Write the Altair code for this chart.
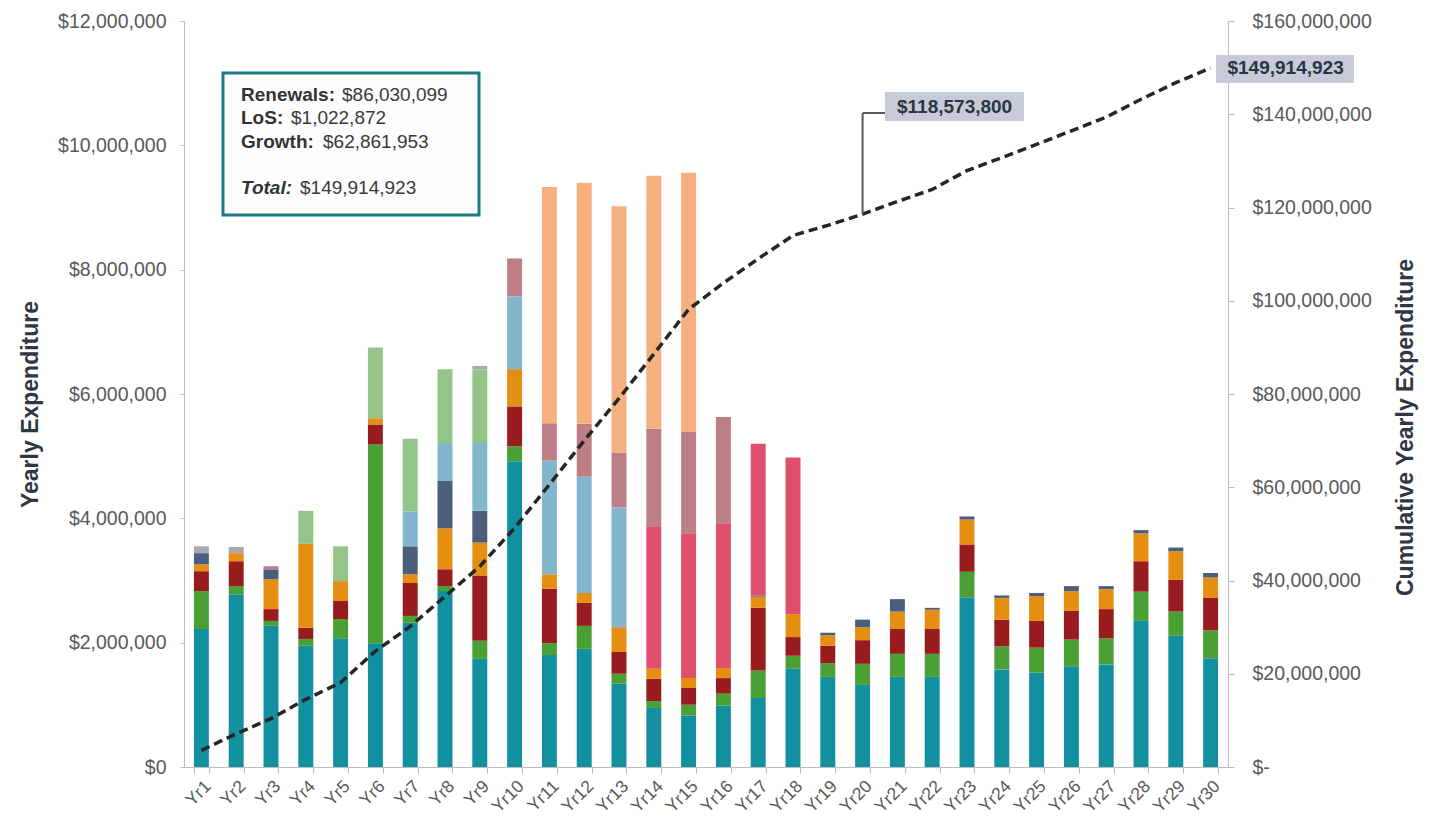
import altair as alt
import pandas as pd

# ---------------------------------------------------------------------------
# Data (yearly expenditure in $ millions per asset group, bottom to top)
# ---------------------------------------------------------------------------
years = [f"Yr{i}" for i in range(1, 31)]

group_names = [
    "Group 1", "Group 2", "Group 3", "Group 4", "Group 5", "Group 6",
    "Group 7", "Group 8", "Group 9", "Group 10", "Group 11",
]
group_colors = [
    "#12909f", "#4a9f35", "#981b1e", "#e58f12", "#4b5e7d", "#82b6cc",
    "#93c58a", "#e04f6b", "#bd7f86", "#f6b07f", "#a9a9b0",
]

g1 = [2.22, 2.78, 2.27, 1.95, 2.07, 1.99, 2.32, 2.83, 1.74, 4.92,
      1.80, 1.90, 1.34, 0.95, 0.83, 0.99, 1.11, 1.58, 1.45, 1.32,
      1.45, 1.45, 2.73, 1.57, 1.52, 1.62, 1.65, 2.35, 2.11, 1.75]
g2 = [0.61, 0.13, 0.08, 0.11, 0.31, 3.20, 0.11, 0.08, 0.29, 0.24,
      0.19, 0.37, 0.16, 0.11, 0.17, 0.19, 0.44, 0.21, 0.22, 0.34,
      0.37, 0.37, 0.41, 0.37, 0.40, 0.43, 0.42, 0.47, 0.39, 0.45]
g3 = [0.32, 0.40, 0.19, 0.18, 0.29, 0.32, 0.53, 0.27, 1.05, 0.64,
      0.88, 0.37, 0.35, 0.36, 0.27, 0.25, 1.01, 0.30, 0.28, 0.38,
      0.40, 0.40, 0.44, 0.43, 0.43, 0.46, 0.47, 0.49, 0.51, 0.52]
g4 = [0.11, 0.13, 0.48, 1.35, 0.32, 0.10, 0.14, 0.66, 0.53, 0.60,
      0.23, 0.16, 0.40, 0.16, 0.16, 0.16, 0.18, 0.37, 0.17, 0.21,
      0.28, 0.31, 0.40, 0.35, 0.40, 0.32, 0.32, 0.45, 0.46, 0.33]
g5 = [0.18, 0.00, 0.16, 0.00, 0.00, 0.00, 0.45, 0.76, 0.51, 0.00,
      0.00, 0.00, 0.00, 0.00, 0.00, 0.00, 0.02, 0.00, 0.04, 0.12,
      0.20, 0.03, 0.05, 0.04, 0.05, 0.08, 0.05, 0.05, 0.06, 0.07]
g6 = [0.00, 0.00, 0.00, 0.00, 0.00, 0.00, 0.56, 0.61, 1.09, 1.17,
      1.83, 1.87, 1.93, 0.00, 0.00, 0.00, 0.00, 0.00, 0.00, 0.00,
      0.00, 0.00, 0.00, 0.00, 0.00, 0.00, 0.00, 0.00, 0.00, 0.00]
g7 = [0.00, 0.00, 0.00, 0.53, 0.56, 1.14, 1.17, 1.19, 1.19, 0.00,
      0.00, 0.00, 0.00, 0.00, 0.00, 0.00, 0.00, 0.00, 0.00, 0.00,
      0.00, 0.00, 0.00, 0.00, 0.00, 0.00, 0.00, 0.00, 0.00, 0.00]
g8 = [0.00, 0.00, 0.00, 0.00, 0.00, 0.00, 0.00, 0.00, 0.00, 0.00,
      0.00, 0.00, 0.00, 2.28, 2.33, 2.33, 2.44, 2.52, 0.00, 0.00,
      0.00, 0.00, 0.00, 0.00, 0.00, 0.00, 0.00, 0.00, 0.00, 0.00]
g9 = [0.00, 0.00, 0.05, 0.00, 0.00, 0.00, 0.00, 0.00, 0.00, 0.61,
      0.60, 0.85, 0.88, 1.58, 1.63, 1.71, 0.00, 0.00, 0.00, 0.00,
      0.00, 0.00, 0.00, 0.00, 0.00, 0.00, 0.00, 0.00, 0.00, 0.00]
g10 = [0.00, 0.00, 0.00, 0.00, 0.00, 0.00, 0.00, 0.00, 0.00, 0.00,
       3.80, 3.88, 3.96, 4.07, 4.17, 0.00, 0.00, 0.00, 0.00, 0.00,
       0.00, 0.00, 0.00, 0.00, 0.00, 0.00, 0.00, 0.00, 0.00, 0.00]
g11 = [0.11, 0.10, 0.00, 0.00, 0.00, 0.00, 0.00, 0.00, 0.05, 0.00,
       0.00, 0.00, 0.00, 0.00, 0.00, 0.00, 0.00, 0.00, 0.00, 0.00,
       0.00, 0.00, 0.00, 0.00, 0.00, 0.00, 0.00, 0.00, 0.00, 0.00]
group_values = [g1, g2, g3, g4, g5, g6, g7, g8, g9, g10, g11]

# Cumulative yearly expenditure, $ millions
cumulative_m = [3.57, 7.13, 10.38, 14.52, 18.09, 24.85, 30.15, 36.57, 43.04, 51.24,
                60.59, 70.01, 79.05, 88.58, 98.16, 103.80, 109.00, 114.00, 116.18, 118.5738,
                121.29, 123.87, 127.92, 130.70, 133.52, 136.45, 139.38, 143.21, 146.77, 149.914923]

# Summary box
summary_labels = ["Renewals:", "LoS:", "Growth:", "Total:"]
summary_values = [86030099, 1022872, 62861953, 149914923]

# ---------------------------------------------------------------------------
# Tables
# ---------------------------------------------------------------------------
rows = []
for layer, (name, vals) in enumerate(zip(group_names, group_values)):
    for yr, v in zip(years, vals):
        if v > 0:
            rows.append({"year": yr, "group": name, "layer": layer, "amount": v * 1_000_000})
bars_df = pd.DataFrame(rows)
cum_df = pd.DataFrame({"year": years, "cumulative": [v * 1_000_000 for v in cumulative_m]})
one = pd.DataFrame({"k": [0]})

# ---------------------------------------------------------------------------
# Styling
# ---------------------------------------------------------------------------
FONT = "Liberation Sans"
AXIS_GREY = "#bdbdbd"
LABEL_GREY = "#595959"
TITLE_DARK = "#2f3742"
W, H = 1044, 746

x_enc = alt.X(
    "year:N", sort=years, title=None,
    scale=alt.Scale(paddingInner=0.57, paddingOuter=0.285),
    axis=alt.Axis(labelAngle=-45, labelFontSize=17.5, labelColor=LABEL_GREY,
                  labelPadding=4, tickSize=6, tickBand="extent", tickColor=AXIS_GREY,
                  domainColor=AXIS_GREY, labelOverlap=False, grid=False),
)

y_bar = alt.Y(
    "amount:Q", stack="zero",
    scale=alt.Scale(domain=[0, 12_000_000], nice=False),
    axis=alt.Axis(title="Yearly Expenditure", values=list(range(0, 12_000_001, 2_000_000)),
                  format="$,.0f", labelFontSize=19.5, labelColor=LABEL_GREY,
                  labelPadding=14, tickSize=4, tickColor=AXIS_GREY, domainColor=AXIS_GREY,
                  grid=False, titleFontSize=23, titleFontWeight="bold", titleColor=TITLE_DARK,
                  titleAngle=270, titleX=-154, titleY=383, titleBaseline="middle",
                  titleAlign="center"),
)

y_cum = alt.Y(
    "cumulative:Q",
    scale=alt.Scale(domain=[0, 160_000_000], nice=False),
    axis=alt.Axis(orient="right", title="Cumulative Yearly Expenditure",
                  values=list(range(0, 160_000_001, 20_000_000)),
                  labelExpr="datum.value == 0 ? '$-' : format(datum.value, '$,.0f')",
                  labelFontSize=19.5, labelColor=LABEL_GREY, labelPadding=18, tickSize=6,
                  tickColor=AXIS_GREY, domainColor=AXIS_GREY, grid=False,
                  titleFontSize=23, titleFontWeight="bold", titleColor=TITLE_DARK,
                  titleAngle=270, titleX=177, titleY=406, titleBaseline="middle",
                  titleAlign="center"),
)

# ---------------------------------------------------------------------------
# Yearly stacked bars + summary box (left axis)
# ---------------------------------------------------------------------------
bars = alt.Chart(bars_df).mark_bar().encode(
    x=x_enc,
    y=y_bar,
    color=alt.Color("group:N", scale=alt.Scale(domain=group_names, range=group_colors), legend=None),
    order=alt.Order("layer:Q", sort="ascending"),
)

box = alt.Chart(one).mark_rect(fill="#fdfdfd", stroke="#1f7b82", strokeWidth=3).encode(
    x=alt.value(39), x2=alt.value(295), y=alt.value(52), y2=alt.value(194)
)

label_x = 57
value_x = [158, 107, 139, 116]
line_y = [74, 97, 121, 167]
summary_layers = []
for i, (lab, val) in enumerate(zip(summary_labels, summary_values)):
    is_total = lab == "Total:"
    t_lab = alt.Chart(pd.DataFrame({"t": [lab]})).mark_text(
        align="left", baseline="middle", fontSize=19, fontWeight="bold",
        fontStyle="italic" if is_total else "normal", color="#333333",
    ).encode(x=alt.value(label_x), y=alt.value(line_y[i]), text="t:N")
    t_val = alt.Chart(pd.DataFrame({"v": [val]})).transform_calculate(
        s="format(datum.v, '$,.0f')"
    ).mark_text(
        align="left", baseline="middle", fontSize=19, color="#3a3a3a",
    ).encode(x=alt.value(value_x[i]), y=alt.value(line_y[i]), text="s:N")
    summary_layers += [t_lab, t_val]

left_layer = alt.layer(bars, box, *summary_layers)

# ---------------------------------------------------------------------------
# Cumulative line + callouts (right axis)
# ---------------------------------------------------------------------------
line = alt.Chart(cum_df).mark_line(
    color="#262626", strokeWidth=3.5, strokeDash=[9, 5]
).encode(x=x_enc, y=y_cum)

yr20 = alt.Chart(cum_df).transform_filter(alt.datum.year == "Yr20")
yr30 = alt.Chart(cum_df).transform_filter(alt.datum.year == "Yr30")

leader_v = yr20.mark_rule(color="#5a5a5a", strokeWidth=2).encode(
    x=x_enc, y=y_cum, y2=alt.value(92)
)
leader_h = yr20.mark_rule(color="#5a5a5a", strokeWidth=2).encode(
    x=x_enc, x2=alt.value(701), y=alt.value(92)
)
tag20_bg = alt.Chart(one).mark_rect(fill="#c6cbd7").encode(
    x=alt.value(701), x2=alt.value(840), y=alt.value(71), y2=alt.value(100)
)
tag20 = yr20.transform_calculate(s="format(datum.cumulative, '$,.0f')").mark_text(
    align="center", baseline="middle", fontSize=19, fontWeight="bold", color="#2a3542", dx=92
).encode(x=x_enc, y=alt.value(85.5), text="s:N")

tag30_bg = alt.Chart(one).mark_rect(fill="#c6cbd7").encode(
    x=alt.value(1032), x2=alt.value(1170), y=alt.value(34), y2=alt.value(62)
)
tag30 = yr30.transform_calculate(s="format(datum.cumulative, '$,.0f')").mark_text(
    align="center", baseline="middle", fontSize=19, fontWeight="bold", color="#2a3542", dx=75
).encode(x=x_enc, y=y_cum, text="s:N")

right_layer = alt.layer(line, leader_v, leader_h, tag20_bg, tag20, tag30_bg, tag30)

chart = (
    alt.layer(left_layer, right_layer)
    .resolve_scale(y="independent")
    .properties(
        width=W, height=H,
        autosize=alt.AutoSizeParams(type="none"),
        padding={"left": 184, "top": 21, "right": 202, "bottom": 52},
        background="white",
    )
    .configure(font=FONT)
    .configure_view(strokeWidth=0)
)

chart.save("out.html", embed_options={"renderer": "svg", "actions": False})
